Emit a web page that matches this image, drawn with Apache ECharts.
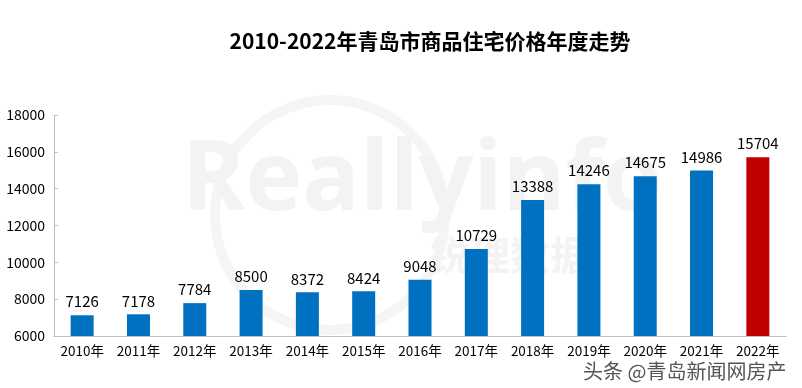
<!DOCTYPE html>
<html><head><meta charset="utf-8">
<script src="https://cdn.jsdelivr.net/npm/echarts@6/dist/echarts.min.js"></script>
<style>html,body{margin:0;padding:0;background:#fff}#c{width:802px;height:388px}</style>
</head><body><div id="c"></div>
<script>
const titleText = '2010-2022年青岛市商品住宅价格年度走势';
const years = ['2010年','2011年','2012年','2013年','2014年','2015年','2016年','2017年','2018年','2019年','2020年','2021年','2022年'];
const prices = [7126,7178,7784,8500,8372,8424,9048,10729,13388,14246,14675,14986,15704];
const yMin = 6000, yMax = 18000, yStep = 2000;
const blue = '#0070C0', red = '#C00000';
const font = '"Microsoft YaHei","Noto Sans CJK SC",sans-serif';

const chart = echarts.init(document.getElementById('c'));
chart.setOption({
  animation:false,
  backgroundColor:'#fff',
  title:{text:titleText,left:425,top:26,textAlign:'center',
    textStyle:{fontFamily:font,fontSize:21,fontWeight:'bold',color:'#000'}},
  grid:{left:54,right:16,top:115,bottom:52},
  graphic:[
    {type:'circle',shape:{cx:330,cy:215,r:115},style:{fill:'none',stroke:'#f5f5f5',lineWidth:10},z:-10,silent:true},
    {type:'text',left:182,top:135,z:-10,silent:true,style:{text:'Reallyinfo',fontFamily:'"Open Sans",sans-serif',fontWeight:'bold',fontSize:96,fill:'#f3f3f3'}},
    {type:'text',left:430,top:235,z:-10,silent:true,style:{text:'锐理数据',fontFamily:font,fontWeight:'bold',fontSize:40,fill:'#f3f3f3'}},
    {type:'text',left:582,top:360,z:100,silent:true,style:{text:'头条 @青岛新闻网房产',fontFamily:font,fontSize:20,fill:'#555',stroke:'#fff',lineWidth:2}}
  ],
  xAxis:{type:'category',data:years,
    axisLine:{lineStyle:{color:'#bfbfbf'}},
    axisTick:{inside:true,length:4,lineStyle:{color:'#bfbfbf'}},
    axisLabel:{color:'#000',fontFamily:font,fontSize:13.5,margin:8,interval:0}},
  yAxis:{type:'value',min:yMin,max:yMax,interval:yStep,
    splitLine:{show:false},
    axisLine:{show:true,lineStyle:{color:'#bfbfbf'}},
    axisTick:{show:true,inside:true,length:4,lineStyle:{color:'#bfbfbf'}},
    axisLabel:{color:'#000',fontFamily:font,fontSize:14,margin:9,formatter:v=>String(v)}},
  series:[{type:'bar',barWidth:23,
    data:prices.map((v,i)=>({value:v,itemStyle:{color:i===prices.length-1?red:blue}})),
    label:{show:true,position:'top',distance:6,color:'#000',fontFamily:font,fontSize:15}}]
});
</script></body></html>
